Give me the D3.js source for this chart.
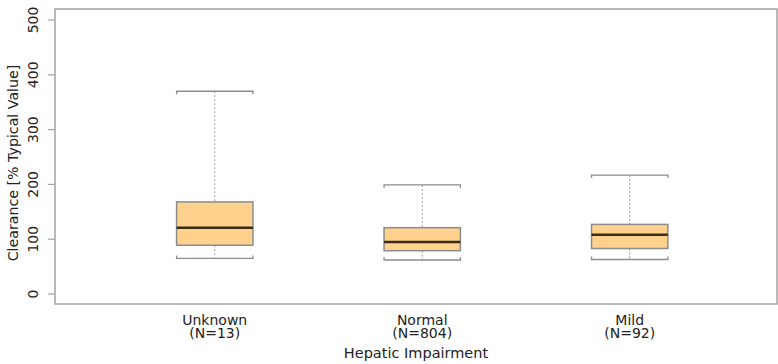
<!DOCTYPE html>
<html>
  <head>
    <meta charset="utf-8" />
    <script src="https://d3js.org/d3.v7.min.js"></script>
    <style>
      body { margin: 0; background: #fff; }
      text { font-family: 'DejaVu Sans', sans-serif; fill: #222; }
    </style>
  </head>
  <body>
    <div id="chart"></div>
    <script>
      // data
      const categories = ['Unknown', 'Normal', 'Mild'];
      const counts = [13, 804, 92];
      const whiskerLow = [65, 62, 63];
      const q1 = [89, 79, 83];
      const medians = [121, 95, 108];
      const q3 = [168, 121, 127];
      const whiskerHigh = [370, 199, 217];
      const yTicks = [0, 100, 200, 300, 400, 500];

      const width = 778;
      const height = 364;
      const plot = { left: 55, right: 777, top: 9, bottom: 304 };

      const svg = d3.select('#chart').append('svg')
        .attr('width', width).attr('height', height);

      // x: category positions 1..n, wide side padding like the original
      const x = d3.scaleLinear().domain([0.23, 3.71]).range([plot.left, plot.right]);
      const y = d3.scaleLinear().domain([0, 500]).range([294, 20]);
      const boxHalf = 0.184;

      // plot frame
      svg.append('rect')
        .attr('x', plot.left).attr('y', plot.top)
        .attr('width', plot.right - plot.left).attr('height', plot.bottom - plot.top)
        .attr('fill', 'none').attr('stroke', '#a3a3a3').attr('stroke-width', 1.5);

      // y axis
      const yAxis = svg.append('g');
      yTicks.forEach((t) => {
        yAxis.append('line')
          .attr('x1', plot.left - 7).attr('x2', plot.left)
          .attr('y1', y(t)).attr('y2', y(t))
          .attr('stroke', '#a3a3a3').attr('stroke-width', 1.2);
        yAxis.append('text')
          .attr('transform', `translate(38,${y(t)}) rotate(-90)`)
          .attr('text-anchor', 'middle')
          .attr('font-size', 14)
          .text(t);
      });
      svg.append('text')
        .attr('transform', `translate(18,163) rotate(-90)`)
        .attr('text-anchor', 'middle')
        .attr('font-size', 14.2)
        .text('Clearance [% Typical Value]');

      // boxes
      const boxes = svg.append('g');
      categories.forEach((c, i) => {
        const cx = x(i + 1);
        const x0 = x(i + 1 - boxHalf);
        const x1 = x(i + 1 + boxHalf);
        const g = boxes.append('g');

        // whiskers (dotted)
        g.append('line')
          .attr('x1', cx).attr('x2', cx)
          .attr('y1', y(whiskerHigh[i])).attr('y2', y(q3[i]))
          .attr('stroke', '#9a9a9a').attr('stroke-dasharray', '2,2');
        g.append('line')
          .attr('x1', cx).attr('x2', cx)
          .attr('y1', y(q1[i])).attr('y2', y(whiskerLow[i]))
          .attr('stroke', '#9a9a9a').attr('stroke-dasharray', '2,2');

        // caps
        g.append('path')
          .attr('d', `M${x0},${y(whiskerHigh[i]) + 3}V${y(whiskerHigh[i])}H${x1}V${y(whiskerHigh[i]) + 3}`)
          .attr('fill', 'none').attr('stroke', '#8c8c8c').attr('stroke-width', 1.3);
        g.append('path')
          .attr('d', `M${x0},${y(whiskerLow[i]) - 3}V${y(whiskerLow[i])}H${x1}V${y(whiskerLow[i]) - 3}`)
          .attr('fill', 'none').attr('stroke', '#8c8c8c').attr('stroke-width', 1.3);

        // box
        g.append('rect')
          .attr('x', x0).attr('y', y(q3[i]))
          .attr('width', x1 - x0).attr('height', y(q1[i]) - y(q3[i]))
          .attr('fill', '#ffd18c').attr('stroke', '#8c8c8c').attr('stroke-width', 1.5);

        // median
        g.append('line')
          .attr('x1', x0).attr('x2', x1)
          .attr('y1', y(medians[i])).attr('y2', y(medians[i]))
          .attr('stroke', '#3a2c18').attr('stroke-width', 2.5);

        // category label
        const lbl = svg.append('text')
          .attr('text-anchor', 'middle').attr('font-size', 14);
        lbl.append('tspan').attr('x', cx).attr('y', 325).text(c);
        lbl.append('tspan').attr('x', cx).attr('y', 337.5).text(`(N=${counts[i]})`);
      });

      svg.append('text')
        .attr('x', (plot.left + plot.right) / 2).attr('y', 358)
        .attr('text-anchor', 'middle').attr('font-size', 14.5)
        .text('Hepatic Impairment');
    </script>
  </body>
</html>
